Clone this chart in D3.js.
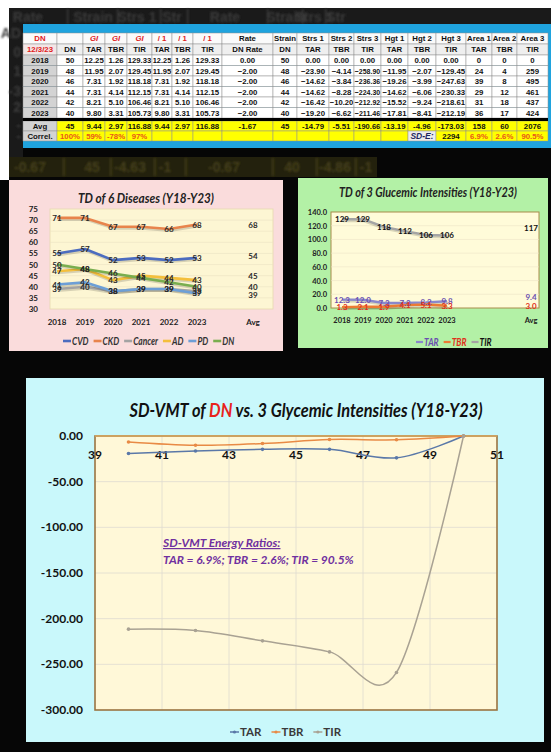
<!DOCTYPE html>
<html>
<head>
<meta charset="utf-8">
<script src="https://cdn.jsdelivr.net/npm/d3@7"></script>
<style>
  body { margin: 0; background: #050505; }
  svg { display: block; }
</style>
</head>
<body>
<svg id="chart" width="551" height="752"></svg>
<script>
// ---- table data ----
let years = [2018, 2019, 2020, 2021, 2022, 2023];
let dn = [50, 48, 46, 44, 42, 40];
let giTAR = [12.25, 11.95, 7.31, 7.31, 8.21, 9.80];
let giTBR = [1.26, 2.07, 1.92, 4.14, 5.10, 3.31];
let giTIR = [129.33, 129.45, 118.18, 112.15, 106.46, 105.73];
let dnRate = [0.00, -2.00, -2.00, -2.00, -2.00, -2.00];
let strs1 = [0.00, -23.90, -14.62, -14.62, -16.42, -19.20];
let strs2 = [0.00, -4.14, -3.84, -8.28, -10.20, -6.62];
let strs3 = [0.00, -258.90, -236.36, -224.30, -212.92, -211.46];
let hgt1 = [0.00, -11.95, -19.26, -14.62, -15.52, -17.81];
let hgt2 = [0.00, -2.07, -3.99, -6.06, -9.24, -8.41];
let hgt3 = [0.00, -129.45, -247.63, -230.33, -218.61, -212.19];
let area1 = [0, 24, 39, 29, 31, 36];
let area2 = [0, 4, 8, 12, 18, 17];
let area3 = [0, 259, 495, 461, 437, 424];

let head1 = ["DN", "", "GI", "GI", "GI", "/ 1", "/ 1", "/ 1", "Rate", "Strain", "Strs 1", "Strs 2", "Strs 3", "Hgt 1", "Hgt 2", "Hgt 3", "Area 1", "Area 2", "Area 3"];
let head2 = ["12/3/23", "DN", "TAR", "TBR", "TIR", "TAR", "TBR", "TIR", "DN Rate", "DN", "TAR", "TBR", "TIR", "TAR", "TBR", "TIR", "TAR", "TBR", "TIR"];
let avgRow = ["Avg", "45", "9.44", "2.97", "116.88", "9.44", "2.97", "116.88", "-1.67", "45", "-14.79", "-5.51", "-190.66", "-13.19", "-4.96", "-173.03", "158", "60", "2076"];
let correlRow = ["Correl.", "100%", "59%", "-78%", "97%", "", "", "", "", "", "", "", "", "", "SD-E:", "2294", "6.9%", "2.6%", "90.5%"];

// ---- TD of 6 diseases ----
let diseases = ["CVD", "CKD", "Cancer", "AD", "PD", "DN"];
let cvd = [55, 57, 52, 53, 52, 53];
let ckd = [71, 71, 67, 67, 66, 68];
let cancer = [39, 40, 38, 39, 39, 38];
let ad = [47, 48, 43, 45, 44, 43];
let pd = [41, 42, 38, 39, 39, 37];
let dnTD = [50, 48, 46, 44, 42, 40];
let diseaseAvg = [54, 68, 39, 45, 40, 45];
let diseaseTicks = [30, 35, 40, 45, 50, 55, 60, 65, 70, 75];

// ---- TD of 3 glycemic intensities ----
let glyNames = ["TAR", "TBR", "TIR"];
let glyAvg = [9.4, 3.0, 117];
let glyTicks = [0, 20, 40, 60, 80, 100, 120, 140];

// ---- SD-VMT (x = DN, y = stress) ----
let vmtTicksX = [39, 41, 43, 45, 47, 49, 51];
let vmtTicksY = [0, -50, -100, -150, -200, -250, -300];

const svg = d3.select("#chart");
const f2 = d3.format(".2f");
const r1 = v => (Math.round(v * 10 + 1e-9) / 10).toFixed(1);

// soft blur for the faded text behind the table
svg.append("defs").append("filter").attr("id", "soft")
  .append("feGaussianBlur").attr("stdDeviation", 0.8);

// ---------------- background ----------------
svg.append("rect").attr("width", 551).attr("height", 752).attr("fill", "#060606");
svg.append("rect").attr("x", 0).attr("y", 0).attr("width", 551).attr("height", 8).attr("fill", "#fff");
svg.append("rect").attr("x", 0).attr("y", 0).attr("width", 9).attr("height", 180).attr("fill", "#fff");
svg.append("rect").attr("x", 9).attr("y", 8).attr("width", 542).attr("height", 17).attr("fill", "#1a1a1a");
svg.append("rect").attr("x", 9).attr("y", 8).attr("width", 14).attr("height", 150).attr("fill", "#1a1a1a");
svg.append("rect").attr("x", 9).attr("y", 157).attr("width", 368).attr("height", 20).attr("fill", "#23210d");

// ghost text behind the table
let ghost = svg.append("g").attr("font-family", "Liberation Sans, Arial").attr("font-weight", "bold")
  .attr("font-size", 14).attr("fill", "#3a3a3a").attr("filter", "url(#soft)");
[["Rate", 28], ["Strain", 93], ["Strs 1", 137], ["Str", 172], ["Rate", 225], ["Strain", 286], ["Strs 1", 314], ["Str", 336]]
  .forEach(d => ghost.append("text").attr("x", d[1]).attr("y", 22).attr("text-anchor", "middle").text(d[0]));
[67, 117, 160, 187, 267, 302, 325].forEach(x => ghost.append("rect").attr("x", x).attr("y", 9).attr("width", 1.5).attr("height", 15));
[["AD", 38], ["0", 57], ["1", 76], ["-3", 96], ["2", 112], ["-", 130], ["-", 141]]
  .forEach(d => ghost.append("text").attr("x", 21).attr("y", d[1]).attr("text-anchor", "end").text(d[0]));
let ghost2 = svg.append("g").attr("font-family", "Liberation Sans, Arial").attr("font-weight", "bold")
  .attr("font-size", 14).attr("fill", "#46411c").attr("filter", "url(#soft)");
[["-0.67", 30], ["45", 92], ["-4.63", 130], ["-1", 165], ["-0.67", 224], ["40", 292], ["-4.86", 335], ["-1", 366]]
  .forEach(d => ghost2.append("text").attr("x", d[1]).attr("y", 172).attr("text-anchor", "middle").text(d[0]));
[63, 110, 154, 185, 272, 316, 355].forEach(x => ghost2.append("rect").attr("x", x).attr("y", 158).attr("width", 1.5).attr("height", 18));

// ---------------- table ----------------
let colEdges = [23, 57, 83, 105, 127, 152, 172, 193, 222, 273, 297, 329, 354, 381, 408, 436, 466, 492, 517, 548];
svg.append("rect").attr("x", 23).attr("y", 24).attr("width", 528).attr("height", 124).attr("fill", "#1fa3de");

let dataRows = years.map((y, i) => [String(y), String(dn[i]), f2(giTAR[i]), f2(giTBR[i]), f2(giTIR[i]),
  f2(giTAR[i]), f2(giTBR[i]), f2(giTIR[i]), f2(dnRate[i]), String(dn[i]), f2(strs1[i]), f2(strs2[i]), f2(strs3[i]),
  f2(hgt1[i]), f2(hgt2[i]), f2(hgt3[i]), String(area1[i]), String(area2[i]), String(area3[i])]);

let tableRows = [
  { cells: head1, y: 33, h: 11, kind: "h1" },
  { cells: head2, y: 44, h: 11, kind: "h2" }
];
dataRows.forEach((r, i) => tableRows.push({ cells: r, y: 55 + i * 10.5, h: 10.5, kind: "data" }));
tableRows.push({ cells: avgRow, y: 121, h: 10, kind: "avg" });
tableRows.push({ cells: correlRow, y: 131, h: 10, kind: "correl" });

let red = "#e0201c", orange = "#e8561a";
function cellFill(kind, c) {
  if (kind === "h1") return "#fafafa";
  if (kind === "h2") return c === 0 ? "#f3e6e6" : "#efefef";
  if (c === 0) return "#d3d3d3";
  if (kind === "data") return "#fff";
  if (kind === "correl" && c === 14) return "#ececec";
  return "#ffff00";
}
function cellColor(kind, c) {
  if (kind === "h1" && (c === 0 || (c >= 2 && c <= 7))) return red;
  if (kind === "h2" && c === 0) return red;
  if (kind === "correl" && ((c >= 1 && c <= 4) || c >= 16)) return orange;
  if (kind === "correl" && c === 14) return "#1c2660";
  return "#111";
}

let tg = svg.append("g").attr("font-family", "Liberation Sans, Arial").attr("font-weight", "bold").attr("font-size", 7.8);
tableRows.forEach(row => {
  row.cells.forEach((t, c) => {
    let x0 = colEdges[c], x1 = colEdges[c + 1];
    tg.append("rect").attr("x", x0).attr("y", row.y).attr("width", x1 - x0).attr("height", row.h)
      .attr("fill", cellFill(row.kind, c)).attr("stroke", "#8f8f8f").attr("stroke-width", 0.5);
    let txt = tg.append("text").attr("x", (x0 + x1) / 2).attr("y", row.y + row.h / 2 + 2.8)
      .attr("text-anchor", "middle").attr("fill", cellColor(row.kind, c))
      .attr("font-style", (row.kind === "h1" && c >= 2 && c <= 4) || (row.kind === "correl" && c === 14) ? "italic" : "normal")
      .attr("font-size", row.kind === "correl" && c === 14 ? 8.5 : 7.8)
      .text(t);
    let w = txt.node().getComputedTextLength();
    if (w > x1 - x0 - 1.5) txt.attr("textLength", x1 - x0 - 1.5).attr("lengthAdjust", "spacingAndGlyphs");
  });
});
svg.append("rect").attr("x", 23).attr("y", 118).attr("width", 525).attr("height", 3).attr("fill", "#000");

// ---------------- TD of 6 diseases ----------------
svg.append("rect").attr("x", 9).attr("y", 180).attr("width", 274).attr("height", 171).attr("fill", "#fadcdc");
let xL = d3.scalePoint().domain([...years, "", "Avg"]).range([57, 253]);
let yL = d3.scaleLinear().domain([30, 75]).range([309, 209]);
svg.append("rect").attr("x", 50).attr("y", 209).attr("width", 223).attr("height", 100)
  .attr("fill", "#fdf6d3").attr("stroke", "#e6d9b0").attr("stroke-width", 0.8);
svg.append("g").selectAll("line").data(diseaseTicks.slice(1, -1)).join("line")
  .attr("x1", 50).attr("x2", 273).attr("y1", d => yL(d)).attr("y2", d => yL(d))
  .attr("stroke", "#ebe2c2").attr("stroke-width", 0.6);
svg.append("g").attr("font-family", "Lato").attr("font-weight", "bold").attr("font-size", 8).attr("fill", "#222")
  .selectAll("text").data(diseaseTicks).join("text")
  .attr("x", 38).attr("y", d => yL(d) + 3).attr("text-anchor", "end").text(d => d);
svg.append("g").attr("font-family", "Lato").attr("font-weight", "bold").attr("font-size", 8).attr("fill", "#222")
  .selectAll("text").data([...years, "Avg"]).join("text")
  .attr("x", d => xL(d)).attr("y", 325).attr("text-anchor", "middle").text(d => d);
svg.append("text").attr("x", 146).attr("y", 203).attr("text-anchor", "middle")
  .attr("font-family", "Lato").attr("font-weight", "bold").attr("font-style", "italic").attr("font-size", 13.5)
  .attr("fill", "#222").attr("textLength", 136).attr("lengthAdjust", "spacingAndGlyphs")
  .text("TD of 6 Diseases  (Y18-Y23)");

let diseaseSeries = [cvd, ckd, cancer, ad, pd, dnTD];
let diseaseColors = ["#4c6cbf", "#e8844c", "#a3a3a3", "#f4bf3c", "#6d9fd6", "#79ae4f"];
let lineL = d3.line().x((d, i) => xL(years[i])).y(d => yL(d));
diseaseSeries.forEach((s, k) => {
  svg.append("path").datum(s).attr("d", lineL).attr("fill", "none")
    .attr("stroke", "#000").attr("stroke-opacity", 0.15).attr("stroke-width", 3).attr("transform", "translate(1,1.5)");
  svg.append("path").datum(s).attr("d", lineL).attr("fill", "none")
    .attr("stroke", diseaseColors[k]).attr("stroke-width", 2.6).attr("stroke-linejoin", "round");
});
let labL = svg.append("g").attr("font-family", "Lato").attr("font-weight", "bold").attr("font-size", 8).attr("fill", "#2a2a2a").attr("text-anchor", "middle");
diseaseSeries.forEach((s, k) => {
  s.forEach((v, i) => labL.append("text").attr("x", xL(years[i])).attr("y", yL(v) + 3).text(v));
});
let avgShown = [[54, 0], [68, 0], [39, 6], [45, 0], [40, 0]];
avgShown.forEach(d => labL.append("text").attr("x", xL("Avg")).attr("y", yL(d[0]) + 3 + d[1]).text(d[0]));

// legend (narrow, Calibri-like widths)
let legL = svg.append("g").attr("font-family", "Lato").attr("font-weight", "bold").attr("font-style", "italic").attr("font-size", 10.5).attr("fill", "#333");
let lx = 63;
diseases.forEach((name, k) => {
  legL.append("line").attr("x1", lx).attr("x2", lx + 8).attr("y1", 341).attr("y2", 341)
    .attr("stroke", diseaseColors[k]).attr("stroke-width", 2.6);
  let t = legL.append("text").attr("x", lx + 9).attr("y", 345).text(name);
  let w = t.node().getComputedTextLength() * 0.8;
  t.attr("textLength", w).attr("lengthAdjust", "spacingAndGlyphs");
  lx += 9 + w + 5;
});

// ---------------- TD of 3 glycemic intensities ----------------
svg.append("rect").attr("x", 298).attr("y", 178).attr("width", 250).attr("height", 170).attr("fill", "#b3f1a6");
let xR = d3.scalePoint().domain([...years, "a", "b", "c", "Avg"]).range([342, 531]);
let yR = d3.scaleLinear().domain([0, 140]).range([308, 212]);
svg.append("rect").attr("x", 331).attr("y", 212).attr("width", 208).attr("height", 96)
  .attr("fill", "#fffbd9").attr("stroke", "#a88c4a").attr("stroke-width", 1);
svg.append("g").selectAll("line").data(glyTicks.slice(1, -1)).join("line")
  .attr("x1", 331).attr("x2", 539).attr("y1", d => yR(d)).attr("y2", d => yR(d))
  .attr("stroke", "#ece4c6").attr("stroke-width", 0.6);
svg.append("g").attr("font-family", "Lato").attr("font-weight", "bold").attr("font-size", 7.5).attr("fill", "#222")
  .selectAll("text").data(glyTicks).join("text")
  .attr("x", 327).attr("y", d => yR(d) + 3).attr("text-anchor", "end").text(d => d.toFixed(1));
svg.append("g").attr("font-family", "Lato").attr("font-weight", "bold").attr("font-size", 7.5).attr("fill", "#222")
  .selectAll("text").data([...years, "Avg"]).join("text")
  .attr("x", d => xR(d)).attr("y", 323).attr("text-anchor", "middle").text(d => d);
svg.append("text").attr("x", 428).attr("y", 197).attr("text-anchor", "middle")
  .attr("font-family", "Lato").attr("font-weight", "bold").attr("font-style", "italic").attr("font-size", 12.5)
  .attr("fill", "#222").attr("textLength", 178).attr("lengthAdjust", "spacingAndGlyphs")
  .text("TD of 3 Glucemic Intensities  (Y18-Y23)");

let glySeries = [giTAR, giTBR, giTIR];
let glyColors = ["#8a88cc", "#ec7b34", "#a4a4a4"];
let glyLabelColors = ["#6a4fb0", "#e0301a", "#111"];
let glyFmt = [r1, r1, v => Math.round(v)];
let lineR = d3.line().x((d, i) => xR(years[i])).y(d => yR(d));
[2, 0, 1].forEach(k => {
  svg.append("path").datum(glySeries[k]).attr("d", lineR).attr("fill", "none")
    .attr("stroke", "#000").attr("stroke-opacity", 0.15).attr("stroke-width", 3).attr("transform", "translate(1,1.5)");
  svg.append("path").datum(glySeries[k]).attr("d", lineR).attr("fill", "none")
    .attr("stroke", glyColors[k]).attr("stroke-width", 2.4).attr("stroke-linejoin", "round");
});
let labR = svg.append("g").attr("font-family", "Lato").attr("font-weight", "bold").attr("font-size", 8).attr("text-anchor", "middle");
glySeries.forEach((s, k) => {
  s.forEach((v, i) => labR.append("text").attr("x", xR(years[i])).attr("y", yR(v) + 3)
    .attr("fill", glyLabelColors[k]).text(glyFmt[k](v)));
  labR.append("text").attr("x", xR("Avg")).attr("y", yR(glyAvg[k]) + 3 + (k === 0 ? -5 : 0))
    .attr("fill", glyLabelColors[k]).text(k === 2 ? glyAvg[k] : glyAvg[k].toFixed(1));
});
let legR = svg.append("g").attr("font-family", "Lato").attr("font-weight", "bold").attr("font-style", "italic").attr("font-size", 10.5);
let rx = 416;
glyNames.forEach((name, k) => {
  legR.append("line").attr("x1", rx).attr("x2", rx + 7).attr("y1", 342).attr("y2", 342)
    .attr("stroke", glyColors[k]).attr("stroke-width", 2.2);
  let t = legR.append("text").attr("x", rx + 8).attr("y", 346).attr("fill", glyLabelColors[k]).text(name);
  let w = t.node().getComputedTextLength() * 0.8;
  t.attr("textLength", w).attr("lengthAdjust", "spacingAndGlyphs");
  rx += 8 + w + 5;
});

// ---------------- SD-VMT of DN vs 3 glycemic intensities ----------------
svg.append("rect").attr("x", 26).attr("y", 378).attr("width", 518).attr("height", 364).attr("fill", "#c9f8fb");
let xB = d3.scaleLinear().domain([39, 51]).range([95, 497]);
let yB = d3.scaleLinear().domain([-300, 0]).range([710, 436]);
svg.append("rect").attr("x", 95).attr("y", 436).attr("width", 402).attr("height", 274).attr("fill", "#fff8d8");
svg.append("g").selectAll("line").data(vmtTicksX.slice(1, -1)).join("line")
  .attr("x1", d => xB(d)).attr("x2", d => xB(d)).attr("y1", 436).attr("y2", 710)
  .attr("stroke", "#dedbd0").attr("stroke-width", 0.8);
svg.append("g").selectAll("line").data(vmtTicksY.slice(1, -1)).join("line")
  .attr("x1", 95).attr("x2", 497).attr("y1", d => yB(d)).attr("y2", d => yB(d))
  .attr("stroke", "#dedbd0").attr("stroke-width", 0.8);
svg.append("rect").attr("x", 95).attr("y", 436).attr("width", 402).attr("height", 274)
  .attr("fill", "none").attr("stroke", "#9a7442").attr("stroke-width", 1.6);
svg.append("line").attr("x1", 95).attr("x2", 497).attr("y1", yB(0)).attr("y2", yB(0))
  .attr("stroke", "#d9a860").attr("stroke-width", 1.4);

svg.append("g").attr("font-family", "Lato").attr("font-weight", "bold").attr("font-size", 12).attr("fill", "#111")
  .selectAll("text").data(vmtTicksY).join("text")
  .attr("x", 83).attr("y", d => yB(d) + 4).attr("text-anchor", "end").text(d => d.toFixed(2));
svg.append("g").attr("font-family", "Lato").attr("font-weight", "bold").attr("font-size", 12).attr("fill", "#111")
  .selectAll("text").data(vmtTicksX).join("text")
  .attr("x", d => xB(d)).attr("y", 459).attr("text-anchor", "middle").text(d => d);

let bigTitle = svg.append("text").attr("x", 306).attr("y", 417).attr("text-anchor", "middle")
  .attr("font-family", "Lato").attr("font-weight", "bold").attr("font-style", "italic").attr("font-size", 18)
  .attr("fill", "#111").attr("textLength", 353).attr("lengthAdjust", "spacingAndGlyphs");
bigTitle.append("tspan").text("SD-VMT of ");
bigTitle.append("tspan").attr("fill", "#e8231c").text("DN");
bigTitle.append("tspan").text(" vs. 3 Glycemic Intensities  (Y18-Y23)");

let ann = svg.append("g").attr("font-family", "Lato").attr("font-weight", "bold").attr("font-style", "italic")
  .attr("font-size", 12).attr("fill", "#7030a0");
ann.append("text").attr("x", 163).attr("y", 547).attr("text-decoration", "underline").text("SD-VMT Energy Ratios:");
ann.append("text").attr("x", 163).attr("y", 564).text("TAR = 6.9%;  TBR = 2.6%;  TIR = 90.5%");

let vmtSeries = [strs1, strs2, strs3];
let vmtColors = ["#5a78a8", "#e88a45", "#a9a293"];
let lineB = d3.line().curve(d3.curveCardinal.tension(0)).x((d, i) => xB(dn[i])).y(d => yB(d));
vmtSeries.forEach((s, k) => {
  svg.append("path").datum(s).attr("d", lineB).attr("fill", "none")
    .attr("stroke", vmtColors[k]).attr("stroke-width", 1.5);
  svg.append("g").selectAll("circle").data(s).join("circle")
    .attr("cx", (d, i) => xB(dn[i])).attr("cy", d => yB(d)).attr("r", 1.8)
    .attr("fill", vmtColors[k]);
});

let legB = svg.append("g").attr("font-family", "Lato").attr("font-weight", "bold").attr("font-size", 11.5).attr("fill", "#3a3a3a");
let bx = 230;
glyNames.forEach((name, k) => {
  legB.append("line").attr("x1", bx).attr("x2", bx + 9).attr("y1", 732).attr("y2", 732)
    .attr("stroke", vmtColors[k]).attr("stroke-width", 1.5);
  legB.append("circle").attr("cx", bx + 4.5).attr("cy", 732).attr("r", 1.6).attr("fill", vmtColors[k]);
  let t = legB.append("text").attr("x", bx + 10).attr("y", 736).text(name);
  bx += 10 + t.node().getComputedTextLength() + 10;
});
</script>
</body>
</html>
